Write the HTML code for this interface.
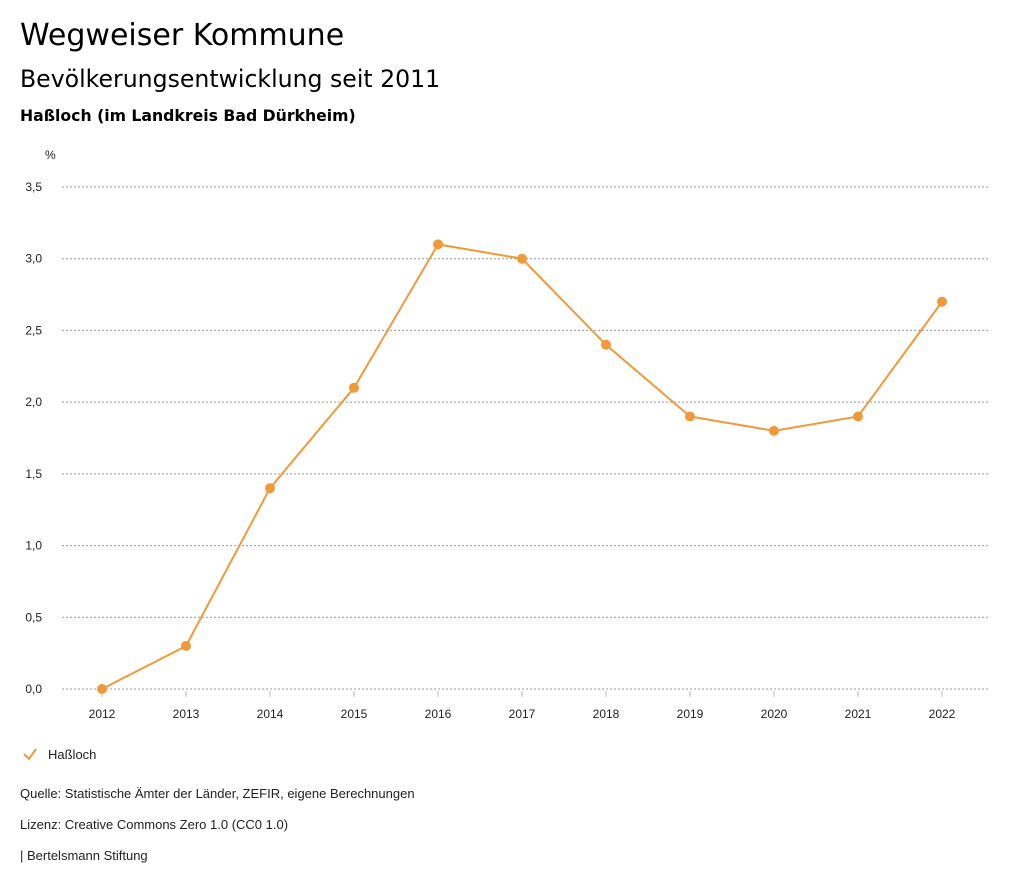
<!DOCTYPE html>
<html><head><meta charset="utf-8"><style>
body{margin:0;width:1024px;height:888px;background:#fff;font-family:"Liberation Sans",sans-serif;color:#000;overflow:hidden}
.t{position:absolute;left:20px;white-space:nowrap;font-family:"DejaVu Sans","Liberation Sans",sans-serif}
</style></head><body>
<div class="t" style="top:18px;font-size:30px">Wegweiser Kommune</div>
<div class="t" style="top:65px;font-size:23.6px">Bevölkerungsentwicklung seit 2011</div>
<div class="t" style="top:106px;font-size:15.7px;font-weight:bold">Haßloch (im Landkreis Bad Dürkheim)</div>
<svg width="1024" height="888" style="position:absolute;left:0;top:0" font-family="Liberation Sans, sans-serif">
<g id="grid"></g><g id="series"></g>
<g>
<polyline points="24,754 29,759 36,749" fill="none" stroke="#f0993a" stroke-width="2"/>
<text x="48" y="759" font-size="13" fill="#222">Haßloch</text></g>
<text x="20" y="798" font-size="13" fill="#222">Quelle: Statistische Ämter der Länder, ZEFIR, eigene Berechnungen</text>
<text x="20" y="829" font-size="13" fill="#222">Lizenz: Creative Commons Zero 1.0 (CC0 1.0)</text>
<text x="20" y="860" font-size="13" fill="#222">| Bertelsmann Stiftung</text>
</svg>
<script>
const years=["2012","2013","2014","2015","2016","2017","2018","2019","2020","2021","2022"];
const values=[0,0.3,1.4,2.1,3.1,3.0,2.4,1.9,1.8,1.9,2.7];
const yTicks=[0,0.5,1,1.5,2,2.5,3,3.5];
const NS="http://www.w3.org/2000/svg";
const x=i=>102+i*84, y=v=>689-v*(502/3.5);
function mk(t,a,p){const e=document.createElementNS(NS,t);for(const k in a)e.setAttribute(k,a[k]);p.appendChild(e);return e;}
const g=document.getElementById('grid'), s=document.getElementById('series'), svg=g.ownerSVGElement;
const pu=mk('text',{x:45,y:159,'font-size':12,fill:'#222'},svg);pu.textContent='%';


yTicks.forEach(v=>{
 const l=mk('line',{x1:62,x2:990,y1:y(v),y2:y(v),stroke:'#999','stroke-dasharray':'2,2','stroke-width':1},g);
 
 
 const t=mk('text',{x:42,y:y(v)+4,'text-anchor':'end','font-size':12,fill:'#222'},g);t.textContent=v.toFixed(1).replace('.',',');
 
 
});
years.forEach((yr,i)=>{
 mk('line',{x1:x(i),x2:x(i),y1:691,y2:697,stroke:'#bbb'},g);
 const t=mk('text',{x:x(i),y:718,'text-anchor':'middle','font-size':12,fill:'#222'},g);t.textContent=yr;
 
 
});
const pl=mk('polyline',{points:values.map((v,i)=>x(i)+','+y(v)).join(' '),fill:'none',stroke:'#f0993a','stroke-width':2},s);


values.forEach((v,i)=>{
 const c=mk('circle',{cx:x(i),cy:y(v),r:5,fill:'#f0993a'},s);
 
 
});
</script>
</body></html>
